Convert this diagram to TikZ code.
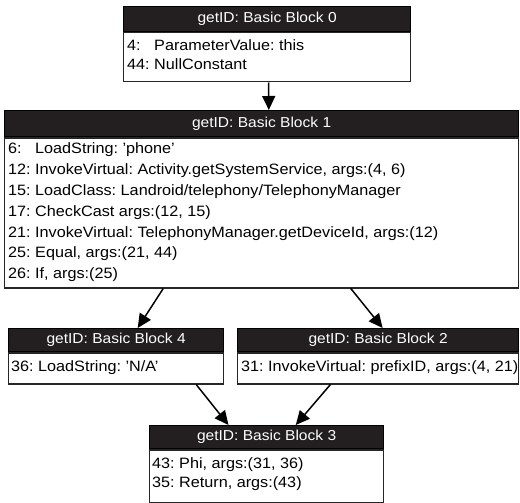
\documentclass[tikz,border=0pt]{standalone}
\usepackage{fontspec}
\setmainfont{Liberation Sans}[FakeStretch=1.08]
\usetikzlibrary{arrows.meta,calc}
\definecolor{hdrcol}{HTML}{231F20}
\tikzset{
  hdr/.style={draw=black, fill=hdrcol, text=white, line width=1.2pt, anchor=north west, inner sep=0pt, font=\fontsize{14.4}{16}\selectfont},
  bodybox/.style={draw=black!85, fill=white, line width=1.3pt, anchor=north west, inner sep=0pt},
  ln/.style={anchor=west, inner sep=0pt, font=\fontsize{15.0}{17}\selectfont},
  arr/.style={-{Triangle[length=14pt,width=13pt]}, line width=1.5pt},
}
\frenchspacing
\begin{document}
\frenchspacing
\begin{tikzpicture}[x=1pt,y=-1pt]
\useasboundingbox (0,0) rectangle (520,503);
% Block 0
\node[hdr, minimum width=287, minimum height=25] (h0) at (123,6) {getID: Basic Block 0};
\node[bodybox, minimum width=287, minimum height=49] (b0) at (h0.south west) {};
\node[ln] (l0a) at (127,45) {\rlap{4:}\phantom{44:} ParameterValue: this};
\node[ln] (l0b) at (127,64) {44: NullConstant};
% Block 1
\node[hdr, minimum width=514, minimum height=26] (h1) at (4,110) {getID: Basic Block 1};
\node[bodybox, minimum width=514, minimum height=150] (b1) at (h1.south west) {};
\node[ln] (l1a) at (8,150) {\rlap{6:}\phantom{12:} LoadString: 'phone'};
\node[ln] (l1b) at (8,170.8) {12: InvokeVirtual: Activity.getSystemService, args:(4, 6)};
\node[ln] (l1c) at (8,191.6) {15: LoadClass: Landroid/telephony/TelephonyManager};
\node[ln] (l1d) at (8,212.4) {17: CheckCast args:(12, 15)};
\node[ln] (l1e) at (8,233.2) {21: InvokeVirtual: TelephonyManager.getDeviceId, args:(12)};
\node[ln] (l1f) at (8,254) {25: Equal, args:(21, 44)};
\node[ln] (l1g) at (8,274.8) {26: If, args:(25)};
% Block 4
\node[hdr, minimum width=215, minimum height=23] (h4) at (8,328) {getID: Basic Block 4};
\node[bodybox, minimum width=215, minimum height=31] (b4) at (h4.south west) {};
\node[ln] (l4a) at (11,368) {36: LoadString: 'N/A'};
% Block 2
\node[hdr, minimum width=281, minimum height=23] (h2) at (237,328) {getID: Basic Block 2};
\node[bodybox, minimum width=281, minimum height=31] (b2) at (h2.south west) {};
\node[ln] (l2a) at (241,368) {31: InvokeVirtual: prefixID, args:(4, 21)};
% Block 3
\node[hdr, minimum width=234, minimum height=23] (h3) at (149,425) {getID: Basic Block 3};
\node[bodybox, minimum width=234, minimum height=53] (b3) at (h3.south west) {};
\node[ln] (l3a) at (152,465) {43: Phi, args:(31, 36)};
\node[ln] (l3b) at (152,484) {35: Return, args:(43)};
% Connectors
\draw[arr] ($(b0.south west)!0.505!(b0.south east)$) -- ($(h1.north west)!0.514!(h1.north east)$);
\draw[arr] ($(b1.south west)!0.309!(b1.south east)$) -- ($(h4.north west)!0.6!(h4.north east)$);
\draw[arr] ($(b1.south west)!0.673!(b1.south east)$) -- ($(h2.north west)!0.516!(h2.north east)$);
\draw[arr] ($(b4.south west)!0.87!(b4.south east)$) -- ($(h3.north west)!0.338!(h3.north east)$);
\draw[arr] ($(b2.south west)!0.331!(b2.south east)$) -- ($(h3.north west)!0.624!(h3.north east)$);
\end{tikzpicture}
\end{document}
